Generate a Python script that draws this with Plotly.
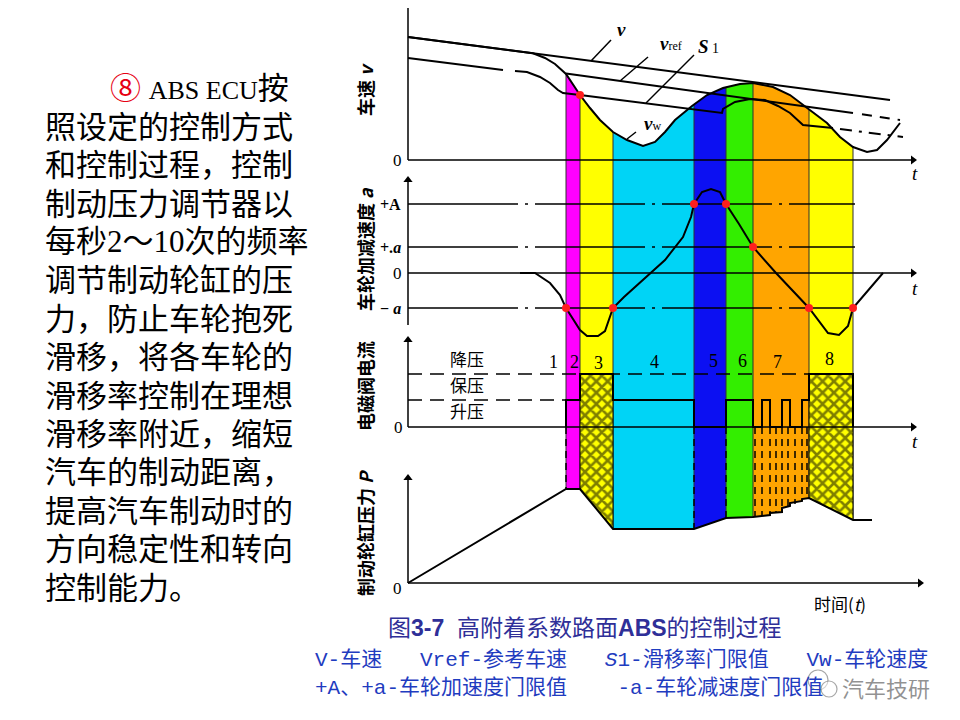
import numpy as np
import plotly.graph_objects as go

W, H = 960, 720          # browser window
OFF = 8                  # default page margin of the html body
FW, FH = W - OFF, H - OFF

# ---------------- data ----------------
# time in arbitrary units, 0 = origin of the axes
phase_start = [158, 172, 205, 286, 318, 345, 401]
phase_end = [172, 205, 286, 318, 345, 401, 445]
phase_color = ['#ff00ff', '#ffff00', '#00d4f6', '#0c10f2', '#33ee00', '#ffa500', '#ffff00']
phase_label = ['1', '2', '3', '4', '5', '6', '7', '8']
phase_label_t = [145, 166, 190, 246, 305, 334, 369, 421]
phase_label_v = [65, 65, 64, 65, 66, 66, 65, 68]
hatched_start = [172, 401]
hatched_end = [205, 445]

# speed panel
v_t = [0, 482]
v_val = [123, 60]
vw_t = [0, 125, 137, 147, 158, 165, 172, 182, 192, 205, 219, 235, 247, 257, 267,
        284, 299, 315, 332, 345, 365, 382, 399, 419, 432, 445, 459, 469, 479, 492]
vw_val = [123, 106.7, 102, 96, 86, 75, 65, 52, 40, 28, 20, 14, 18, 28, 40,
          54, 65, 72, 76, 77, 73, 65, 52, 37, 23, 13, 8, 10, 20, 37]
vref_t = [158, 445]
vref_val = [86.5, 47]
vref_tail_t = [454, 492]
vref_tail_val = [45.8, 40]
s1_t = [0, 95, None, 107, 119, 132, 142, 150, 155, 172, 314, 315, 327, 342, 357, 370, 382, 395, 425]
s1_val = [102, 90, None, 89, 88, 83, 77, 70, 67, 65, 47, 51, 58, 61, 60, 54, 47, 35, 32]
s1_tail_t = [432, 495]
s1_tail_val = [31, 23]
speed_dot_t = [172]
speed_dot_val = [65]

# acceleration panel
acc_t = [112, 127, 142, 152, 158, 164, 172, 179, 190, 197, 205, 216, 235, 257, 275, 283,
         286, 294, 303, 312, 318, 331, 345, 368, 401, 412, 420, 431, 440, 445, 460, 475]
acc_val = [0, 0, -10, -22, -35, -45, -57, -63, -63, -58, -35, -24, -7, 13, 36, 56,
           69, 81, 84, 81, 69, 49, 26, 0, -35, -50, -60, -62, -53, -35, -17, 0]
acc_dot_t = [158, 205, 286, 318, 345, 401, 445]
acc_dot_val = [-35, -35, 69, 69, 26, -35, -35]
thr_names = ['<b>+A</b>', '<b>+.<i>a</i></b>', '<b>− <i>a</i></b>']
thr_val = [69, 26, -35]

# solenoid valve current panel
valve_levels = [53, 27]            # 降压, 保压
valve_level_end = [401, 158]
valve_names = ['降压', '保压', '升压']
valve_name_v = [69, 43, 17]
cur_t = [158, 158, 172, 172, 205, 205, 286, 286, 318, 318, 345, 345, 354, 354, 362, 362,
         374, 374, 382, 382, 394, 394, 401, 401, 445, 445]
cur_val = [0, 27, 27, 53, 53, 27, 27, 0, 0, 27, 27, 0, 0, 27, 27, 0,
           0, 27, 27, 0, 0, 27, 27, 53, 53, 0]

# brake cylinder pressure panel
p_t = [0, 158, 172, 205, 286, 318, 345, 362, 362, 374, 374, 382, 382, 394, 394, 401, 445, 464]
p_val = [0, 94, 94, 54, 54, 65, 66, 68, 70, 71, 75, 77, 80, 82, 84, 85, 63, 63]
dv_t = [158, 286, 318, 347, 354, 362, 368, 374, 380, 387, 394, 399]
dv_bottom = [94, 54, 65, 66, 67, 69, 71, 73, 76, 79, 83, 85]

text_lines = [
    '<span style="color:#e60012">⑧</span> <span style="font-size:26px">ABS ECU</span>按',
    '照设定的控制方式', '和控制过程，控制', '制动压力调节器以', '每秒2～10次的频率',
    '调节制动轮缸的压', '力，防止车轮抱死', '滑移，将各车轮的', '滑移率控制在理想',
    '滑移率附近，缩短', '汽车的制动距离，', '提高汽车制动时的', '方向稳定性和转向',
    '控制能力。']
text_line_y = [88, 127, 165, 204, 242, 280, 319, 357, 396, 434, 473, 511, 549, 588]

# ---------------- layout constants (window pixel rows of the panel zero lines) ----------------
BASE = {'y': 160, 'y2': 273, 'y3': 427, 'y4': 583}
ORIGIN_X = 408
SERIF = 'Liberation Serif, Noto Sans CJK SC'
SANS = 'Noto Sans CJK SC, Liberation Sans'


def pp(px, py):
    """window pixel -> paper coordinates"""
    return (px - OFF) / FW, 1 - (py - OFF) / FH


fig = go.Figure()


def add(t, v, ax, width=2.0, color='black', dash='solid', **kw):
    fig.add_trace(go.Scatter(x=t, y=v, yaxis=ax, mode='lines',
                             line=dict(color=color, width=width, dash=dash),
                             hoverinfo='skip', showlegend=False, **kw))


# bands (time intervals spanning the whole diagram)
top_p, bot_p = pp(0, 62)[1], pp(0, 548)[1]
for s, e, c in zip(phase_start, phase_end, phase_color):
    fig.add_shape(type='rect', xref='x', yref='paper', x0=s, x1=e, y0=bot_p, y1=top_p,
                  fillcolor=c, line_width=0, layer='below')
for t in sorted(set(phase_start + phase_end)):
    fig.add_shape(type='line', xref='x', yref='paper', x0=t, x1=t, y0=bot_p, y1=top_p,
                  line=dict(color='#303030', width=1), layer='below')

# speed-panel mask above the wheel speed curve
a, b = 150, 455
mt = [a] + [t for t in vw_t if a < t < b] + [b]
mv = [float(np.interp(a, vw_t, vw_val))] + [v for t, v in zip(vw_t, vw_val) if a < t < b] + \
     [float(np.interp(b, vw_t, vw_val))]
fig.add_trace(go.Scatter(x=mt + [b, a, a], y=mv + [170, 170, mv[0]], yaxis='y', mode='lines',
                         fill='toself', fillcolor='white', line=dict(width=0), hoverinfo='skip'))

# speed panel lines
add([0, 0], [0, 155], 'y', width=1.5)
add([0, 505], [0, 0], 'y', width=1.5)
fig.add_trace(go.Scatter(x=[0, 505], y=[155, 0], yaxis='y', mode='markers', hoverinfo='skip',
                         marker=dict(symbol=['triangle-up', 'triangle-right'], size=8, color='black')))
add(v_t, v_val, 'y')
add(vref_t, vref_val, 'y')
add(vref_tail_t, vref_tail_val, 'y', dash='10px,8px')
add(s1_t, s1_val, 'y', connectgaps=False)
add(s1_tail_t, s1_tail_val, 'y', dash='12px,7px,3px,7px')
add(vw_t, vw_val, 'y')
for pt, pv in [([183, 203], [99, 120]), ([212, 240], [79, 103]), ([238, 286], [57, 105]),
               ([219, 228], [21, 28])]:
    add(pt, pv, 'y', width=1.5)
fig.add_trace(go.Scatter(x=speed_dot_t, y=speed_dot_val, yaxis='y', mode='markers',
                         marker=dict(size=8, color='#ff1e1e'), hoverinfo='skip'))

# acceleration panel
add([0, 0], [-52, 93], 'y2', width=1.5)
add([0, 505], [0, 0], 'y2', width=1.5)
fig.add_trace(go.Scatter(x=[0, 505], y=[93, 0], yaxis='y2', mode='markers', hoverinfo='skip',
                         marker=dict(symbol=['triangle-up', 'triangle-right'], size=8, color='black')))
for tv in thr_val:
    add([0, 447], [tv, tv], 'y2', width=1.5, dash='110px,7px,3px,7px')
add(acc_t, acc_val, 'y2')
fig.add_trace(go.Scatter(x=acc_dot_t, y=acc_dot_val, yaxis='y2', mode='markers',
                         marker=dict(size=8, color='#ff1e1e'), hoverinfo='skip'))

# valve current panel
for s, e in zip(hatched_start, hatched_end):
    fig.add_trace(go.Scatter(x=[s, e, e, s, s], y=[53, 53, -130, -130, 53], yaxis='y3',
                             mode='lines', fill='toself', fillcolor='#ffff00',
                             fillpattern=dict(shape='x', fgcolor='black', bgcolor='#ffff00',
                                              size=8, solidity=0.55),
                             line=dict(color='black', width=1), hoverinfo='skip'))
add([0, 0], [0, 87], 'y3', width=1.5)
add([0, 505], [0, 0], 'y3', width=1.5)
fig.add_trace(go.Scatter(x=[0, 505], y=[87, 0], yaxis='y3', mode='markers', hoverinfo='skip',
                         marker=dict(symbol=['triangle-up', 'triangle-right'], size=8, color='black')))
for lv, le in zip(valve_levels, valve_level_end):
    add([0, le], [lv, lv], 'y3', width=1.5, dash='14px,8px')
add(cur_t, cur_val, 'y3', width=2)

# pressure panel: mask below the pressure curve
a, b = 150, 455
mt = [a] + [t for t in p_t if a < t < b] + [b]
mv = [float(np.interp(a, p_t, p_val))] + [v for t, v in zip(p_t, p_val) if a < t < b] + \
     [float(np.interp(b, p_t, p_val))]
fig.add_trace(go.Scatter(x=mt + [b, a, a], y=mv + [15, 15, mv[0]], yaxis='y4', mode='lines',
                         fill='toself', fillcolor='white', line=dict(width=0), hoverinfo='skip'))
valve_zero_in_p = BASE['y4'] - BASE['y3']
for t, bt in zip(dv_t, dv_bottom):
    add([t, t], [valve_zero_in_p, bt], 'y4', width=1.5, dash='7px,5px')
add([0, 0], [0, 105], 'y4', width=1.5)
add([0, 512], [0, 0], 'y4', width=1.5)
fig.add_trace(go.Scatter(x=[0, 512], y=[105, 0], yaxis='y4', mode='markers', hoverinfo='skip',
                         marker=dict(symbol=['triangle-up', 'triangle-right'], size=8, color='black')))
add(p_t, p_val, 'y4')


# ---------------- text ----------------
def txt(t, v, s, yref, size=17, family=SERIF, xanchor='center', angle=0, color='black'):
    fig.add_annotation(x=t, y=v, xref='x', yref=yref, text=s, showarrow=False,
                       font=dict(size=size, family=family, color=color),
                       xanchor=xanchor, yanchor='middle', textangle=angle)


LAB_T = -43
txt(213, 131, '<b><i>v</i></b>', 'y', size=19)
txt(263, 117, '<b><i>v</i></b><span style="font-size:12px">ref</span>', 'y', size=19)
txt(300, 114, '<b><i>S</i></b><span style="font-size:14px"> 1</span>', 'y', size=19)
txt(244, 37, '<b><i>v</i></b><span style="font-size:12px">w</span>', 'y', size=19)
txt(-11, 0, '0', 'y', size=17)
txt(507, -13, '<i>t</i>', 'y', size=19)
txt(LAB_T, 70, '<b>车速 <i>v</i></b>', 'y', size=18, family=SANS, angle=-90)

for nm, tv in zip(thr_names, thr_val):
    txt(-5, tv, nm, 'y2', size=16, xanchor='right')
txt(-11, 0, '0', 'y2', size=17)
txt(507, -15, '<i>t</i>', 'y2', size=19)
txt(LAB_T, 24, '<b>车轮加减速度 <i>a</i></b>', 'y2', size=18, family=SANS, angle=-90)

for nm, nv in zip(valve_names, valve_name_v):
    txt(59, nv, nm, 'y3', size=17, family=SANS)
for lb, lt, lv in zip(phase_label, phase_label_t, phase_label_v):
    txt(lt, lv, lb, 'y3', size=18)
txt(-10, 0, '0', 'y3', size=17)
txt(507, -14, '<i>t</i>', 'y3', size=19)
txt(LAB_T, 41, '<b>电磁阀电流</b>', 'y3', size=18, family=SANS, angle=-90)

txt(-11, -5, '0', 'y4', size=17)
txt(432, -20, '时间(<i>t</i>)', 'y4', size=17, family=SANS)
txt(LAB_T, 50, '<b>制动轮缸压力 <i>P</i></b>', 'y4', size=18, family=SANS, angle=-90)

for i, (s, py) in enumerate(zip(text_lines, text_line_y)):
    x0 = 108 if i == 0 else 43
    px_, py_ = pp(x0, py)
    fig.add_annotation(x=px_, y=py_, xref='paper', yref='paper', text=s, showarrow=False,
                       xanchor='left', yanchor='middle',
                       font=dict(size=31, family=SERIF, color='black'))

cap = [
    ('图<b>3-7</b>\u00a0\u00a0高附着系数路面<b>ABS</b>的控制过程', 585, 628, 'center', '#2f2f98', 23,
     'Liberation Sans, Noto Sans CJK SC'),
    ('V-车速\u00a0\u00a0\u00a0Vref-参考车速\u00a0\u00a0\u00a0<i>S</i>1-滑移率门限值\u00a0\u00a0\u00a0Vw-车轮速度',
     313, 660, 'left', '#1f3cc0', 21, 'Liberation Mono, Noto Sans CJK SC'),
    ('+A、+a-车轮加速度门限值\u00a0\u00a0\u00a0\u00a0-a-车轮减速度门限值',
     313, 688, 'left', '#1f3cc0', 21, 'Liberation Mono, Noto Sans CJK SC'),
    ('汽车技研', 886, 687, 'center', 'rgba(110,110,110,0.75)', 22, 'Noto Sans CJK SC'),
]
for s, x0, y0, xa, col, sz, fam in cap:
    px_, py_ = pp(x0, y0)
    fig.add_annotation(x=px_, y=py_, xref='paper', yref='paper', text=s, showarrow=False,
                       xanchor=xa, yanchor='middle', font=dict(size=sz, family=fam, color=col))

# small WeChat-like logo next to the watermark
for cx, cy, r in [(818, 680, 10), (829, 689, 8)]:
    x0, y0 = pp(cx - r, cy - r)
    x1, y1 = pp(cx + r, cy + r)
    fig.add_shape(type='circle', xref='paper', yref='paper', x0=x0, x1=x1, y0=y1, y1=y0,
                  line=dict(color='rgba(130,130,130,0.7)', width=1.2), fillcolor='rgba(255,255,255,0.5)')

yax = {}
for k, base in BASE.items():
    name = 'yaxis' if k == 'y' else 'yaxis' + k[1:]
    d = dict(range=[base - H, base - OFF], visible=False, fixedrange=True)
    if k != 'y':
        d['overlaying'] = 'y'
    yax[name] = d

fig.update_layout(width=FW, height=FH, margin=dict(l=0, r=0, t=0, b=0),
                  paper_bgcolor='white', plot_bgcolor='rgba(0,0,0,0)', showlegend=False,
                  font=dict(family=SANS),
                  xaxis=dict(range=[OFF - ORIGIN_X, W - ORIGIN_X], visible=False, fixedrange=True),
                  **yax)

fig.write_html('out.html')
